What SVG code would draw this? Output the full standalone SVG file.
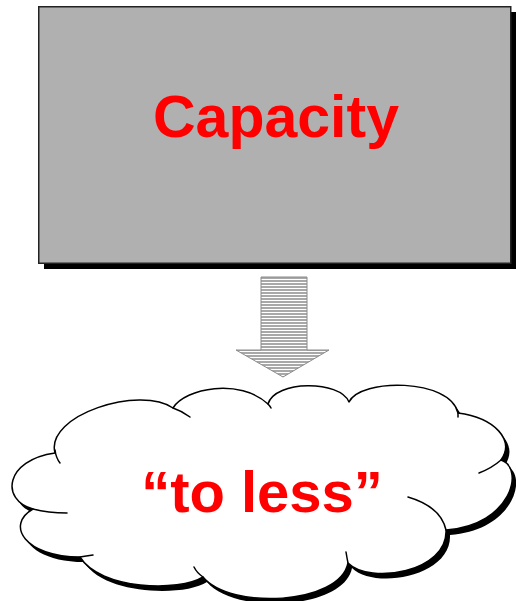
<svg xmlns="http://www.w3.org/2000/svg" width="516" height="601" viewBox="0 0 516 601">
  <style>
    .label { font-family: "Liberation Sans", Arial, sans-serif; font-weight: bold; fill: #ff0000; text-anchor: middle; }
    .shadow { fill: #000000; stroke: none; }
    .cloud { fill: #ffffff; stroke: #000000; stroke-width: 1.5; stroke-linejoin: round; }
    .tail { fill: none; stroke: #000000; stroke-width: 1.5; stroke-linecap: round; }
  </style>
  <defs>
    <pattern id="stripes" x="0" y="277" width="8" height="3" patternUnits="userSpaceOnUse">
      <rect x="0" y="0" width="8" height="3" fill="#ffffff"/>
      <rect x="0" y="0" width="8" height="2" fill="#a8a8a8"/>
    </pattern>
    <path id="cloudShape" d="M55,453 C45,415 140,385 173,408 C185,388 240,378 268,404 C275,380 340,380 349,402 C360,378 450,378 458,413 C495,418 515,440 501,460 C525,468 512,525 446,530 C448,572 370,585 348,563 C340,605 230,610 203,577 C180,592 100,590 80,557 C25,557 5,525 33,509 C0,500 5,460 55,453 Z"/>
  </defs>
  <rect width="516" height="601" fill="#ffffff"/>

  <g id="capacity">
    <rect x="44" y="12" width="472" height="257" class="shadow"/>
    <rect x="38.75" y="6.75" width="472" height="256.5" fill="#b0b0b0" stroke="#222222" stroke-width="1.5"/>
    <text x="276" y="137" class="label" font-size="59">Capacity</text>
  </g>

  <g id="connectors">
    <path d="M261,277 L307,277 L307,350 L329,350 L283,377 L236,350 L261,350 Z" fill="url(#stripes)" stroke="#8a8a8a" stroke-width="1"/>
  </g>

  <g id="to-less">
    <use href="#cloudShape" class="shadow" transform="translate(4,5)"/>
    <use href="#cloudShape" class="cloud"/>
    <path class="tail" d="M55,450 Q56,458 60,463"/>
    <path class="tail" d="M173,408 Q182,411 190,417"/>
    <path class="tail" d="M33,509 Q48,513 67,513"/>
    <path class="tail" d="M80,557 Q86,556 93,555"/>
    <path class="tail" d="M203,577 Q197,573 194,567"/>
    <path class="tail" d="M268,404 Q270,406 271,408"/>
    <path class="tail" d="M458,413 Q458,415 458,417"/>
    <path class="tail" d="M501,460 Q492,468 479,473"/>
    <path class="tail" d="M408,497 C425,502 442,512 446,530"/>
    <path class="tail" d="M348,563 Q347,558 346,552"/>
    <text x="262" y="512" class="label" font-size="58">“to less”</text>
  </g>
</svg>
